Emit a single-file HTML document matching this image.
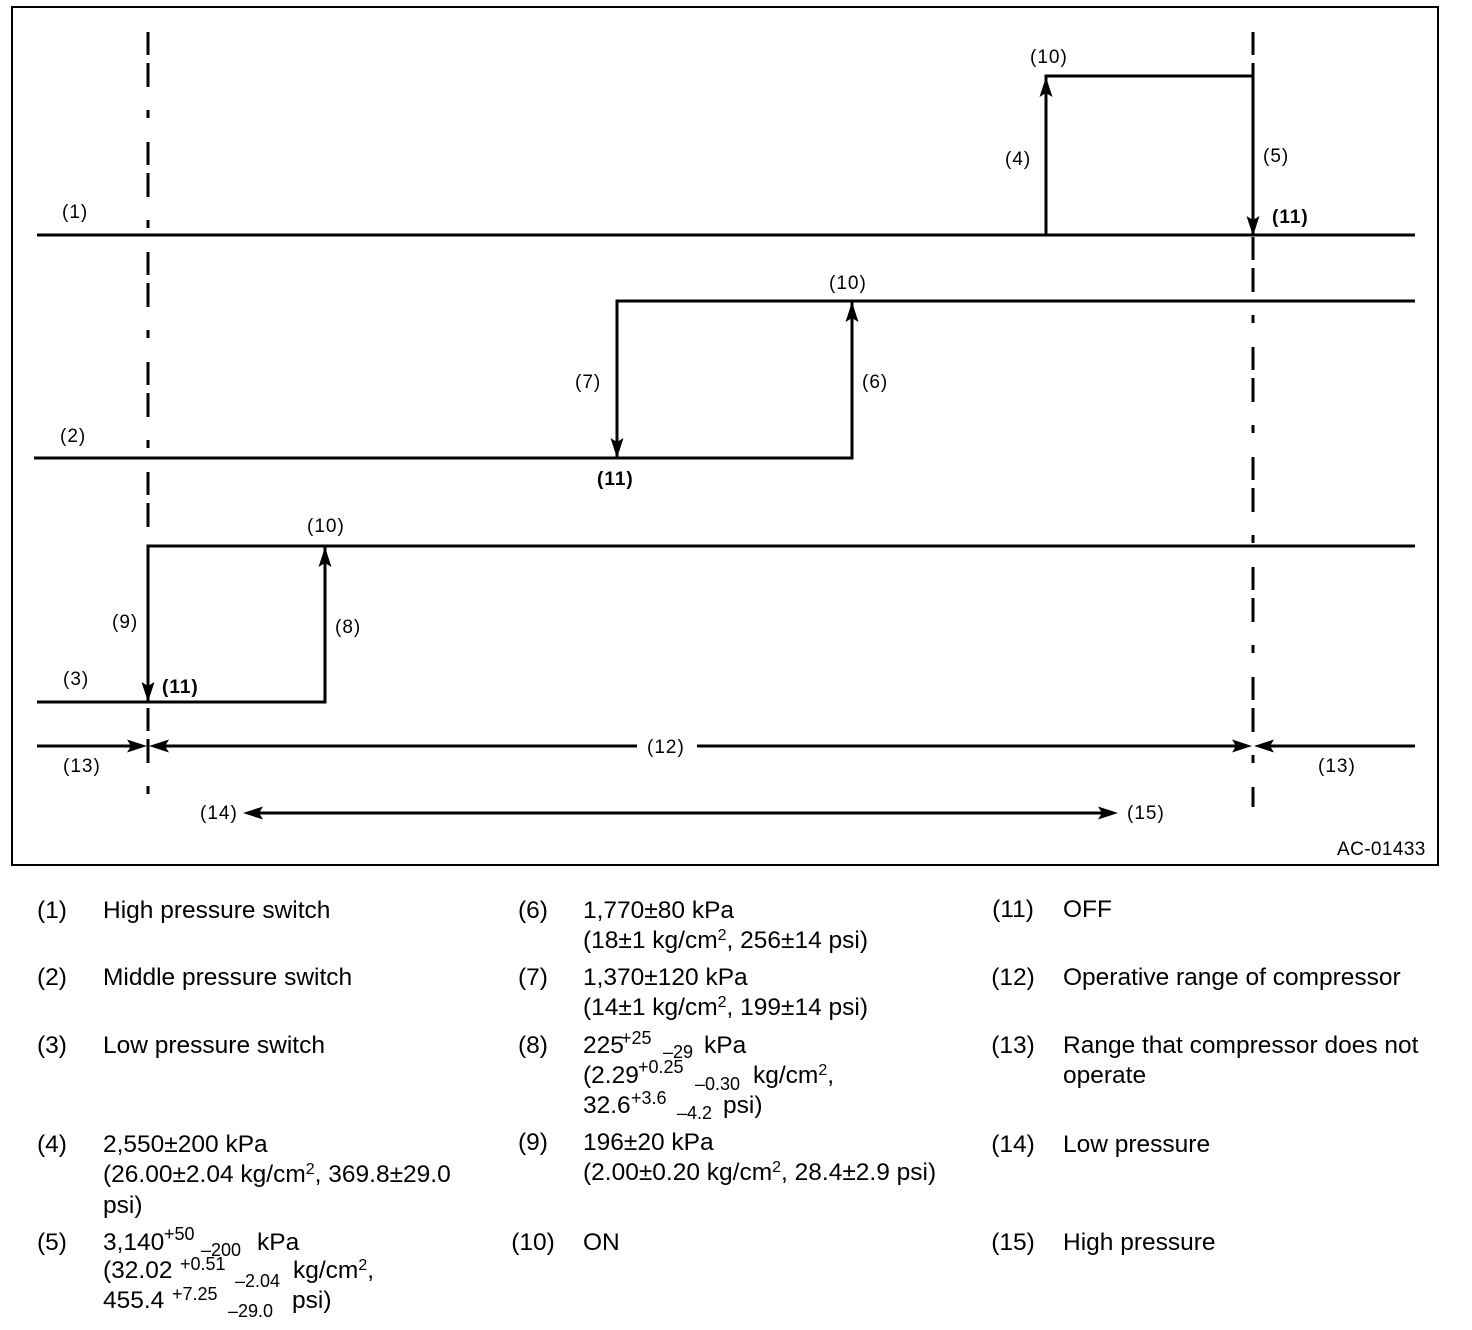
<!DOCTYPE html>
<html>
<head>
<meta charset="utf-8">
<style>
  html, body { margin:0; padding:0; background:#fff; }
  svg { display:block; }
  .lbl { font-family:"Liberation Sans", Arial, sans-serif; font-size:19px; letter-spacing:1px; fill:#000; }
  .lblb { font-family:"Liberation Sans", Arial, sans-serif; font-size:19px; letter-spacing:1px; font-weight:bold; fill:#000; }
  .lg { font-family:"Liberation Sans", Arial, sans-serif; font-size:24.5px; fill:#000; }
  .ss { font-family:"Liberation Sans", Arial, sans-serif; font-size:18px; fill:#000; }
</style>
</head>
<body>
<svg width="1472" height="1330" viewBox="0 0 1472 1330" xmlns="http://www.w3.org/2000/svg">
  <rect x="0" y="0" width="1472" height="1330" fill="#fff"/>
  <!-- frame -->
  <rect x="12" y="7" width="1426" height="858" fill="none" stroke="#000" stroke-width="2"/>

  <!-- dashed verticals -->
  <g stroke="#000" stroke-width="3" fill="none">
    <line x1="148" y1="32" x2="148" y2="546" stroke-dasharray="23 8 24 23 8 24"/>
    <line x1="148" y1="708" x2="148" y2="795" stroke-dasharray="23 8 24 23 8 24"/>
    <line x1="1253" y1="32" x2="1253" y2="55"/>
    <line x1="1253" y1="63" x2="1253" y2="76"/>
    <line x1="1253" y1="237" x2="1253" y2="807" stroke-dasharray="23 8 24 23 8 24"/>
  </g>

  <!-- main lines -->
  <g stroke="#000" stroke-width="3" fill="none" stroke-linejoin="miter">
    <!-- (1) -->
    <line x1="37" y1="235" x2="1415" y2="235"/>
    <path d="M1046,235 V76 H1253 V235"/>
    <!-- (2) -->
    <path d="M34,458 H852 V301"/>
    <path d="M617,458 V301 H1415"/>
    <!-- (3) -->
    <path d="M37,702 H325 V546"/>
    <path d="M148,702 V546 H1415"/>
    <!-- range line -->
    <line x1="37" y1="746" x2="140" y2="746"/>
    <line x1="156" y1="746" x2="637" y2="746"/>
    <line x1="697" y1="746" x2="1245" y2="746"/>
    <line x1="1261" y1="746" x2="1415" y2="746"/>
    <!-- low/high line -->
    <line x1="250" y1="813" x2="1111" y2="813"/>
  </g>

  <!-- arrowheads -->
  <g fill="#000" stroke="none">
    <!-- up arrows -->
    <polygon points="1046,77 1052.5,97 1046,93 1039.5,97"/>
    <polygon points="852,302 858.5,322 852,318 845.5,322"/>
    <polygon points="325,547 331.5,567 325,563 318.5,567"/>
    <!-- down arrows -->
    <polygon points="1253,236 1259.5,216 1253,220 1246.5,216"/>
    <polygon points="617,458 623.5,438 617,442 610.5,438"/>
    <polygon points="148,702 154.5,682 148,686 141.5,682"/>
    <!-- range arrows y=746 -->
    <polygon points="147,746 127,739.5 131,746 127,752.5"/>
    <polygon points="149,746 169,739.5 165,746 169,752.5"/>
    <polygon points="1252,746 1232,739.5 1236,746 1232,752.5"/>
    <polygon points="1254,746 1274,739.5 1270,746 1274,752.5"/>
    <!-- low/high arrows y=813 -->
    <polygon points="243,813 263,806.5 259,813 263,819.5"/>
    <polygon points="1118,813 1098,806.5 1102,813 1098,819.5"/>
  </g>

  <!-- diagram labels -->
  <text class="lbl" x="62" y="218">(1)</text>
  <text class="lbl" x="1030" y="63">(10)</text>
  <text class="lbl" x="1005" y="165">(4)</text>
  <text class="lbl" x="1263" y="162">(5)</text>
  <text class="lblb" x="1272" y="223">(11)</text>

  <text class="lbl" x="829" y="289">(10)</text>
  <text class="lbl" x="575" y="388">(7)</text>
  <text class="lbl" x="862" y="388">(6)</text>
  <text class="lblb" x="597" y="485">(11)</text>
  <text class="lbl" x="60" y="442">(2)</text>

  <text class="lbl" x="307" y="532">(10)</text>
  <text class="lbl" x="112" y="628">(9)</text>
  <text class="lbl" x="335" y="633">(8)</text>
  <text class="lbl" x="63" y="685">(3)</text>
  <text class="lblb" x="162" y="693">(11)</text>

  <text class="lbl" x="63" y="772">(13)</text>
  <text class="lbl" x="647" y="753">(12)</text>
  <text class="lbl" x="1318" y="772">(13)</text>
  <text class="lbl" x="200" y="819">(14)</text>
  <text class="lbl" x="1127" y="819">(15)</text>
  <text class="lbl" x="1337" y="855" style="letter-spacing:0.4px">AC-01433</text>

  <!-- legend: left column -->
  <g class="lg">
    <text class="lg" x="52" y="918" text-anchor="middle">(1)</text>
    <text class="lg" x="103" y="918">High pressure switch</text>
    <text class="lg" x="52" y="985" text-anchor="middle">(2)</text>
    <text class="lg" x="103" y="985">Middle pressure switch</text>
    <text class="lg" x="52" y="1053" text-anchor="middle">(3)</text>
    <text class="lg" x="103" y="1053">Low pressure switch</text>
    <text class="lg" x="52" y="1152" text-anchor="middle">(4)</text>
    <text class="lg" x="103" y="1152">2,550±200 kPa</text>
    <text class="lg" x="103" y="1182">(26.00±2.04 kg/cm<tspan dy="-8" font-size="16">2</tspan><tspan dy="8">, 369.8±29.0</tspan></text>
    <text class="lg" x="103" y="1213">psi)</text>
    <text class="lg" x="52" y="1250" text-anchor="middle">(5)</text>
    <text class="lg" x="103" y="1250">3,140</text>
    <text class="ss" x="164" y="1240">+50</text>
    <text class="ss" x="201" y="1256">–200</text>
    <text class="lg" x="257" y="1250">kPa</text>
    <text class="lg" x="103" y="1278">(32.02</text>
    <text class="ss" x="180" y="1270">+0.51</text>
    <text class="ss" x="235" y="1287">–2.04</text>
    <text class="lg" x="293" y="1278">kg/cm<tspan dy="-8" font-size="16">2</tspan><tspan dy="8">,</tspan></text>
    <text class="lg" x="103" y="1308">455.4</text>
    <text class="ss" x="172" y="1300">+7.25</text>
    <text class="ss" x="228" y="1317">–29.0</text>
    <text class="lg" x="292" y="1308">psi)</text>
  </g>

  <!-- legend: middle column -->
  <text class="lg" x="533" y="918" text-anchor="middle">(6)</text>
  <text class="lg" x="583" y="918">1,770±80 kPa</text>
  <text class="lg" x="583" y="948">(18±1 kg/cm<tspan dy="-8" font-size="16">2</tspan><tspan dy="8">, 256±14 psi)</tspan></text>
  <text class="lg" x="533" y="985" text-anchor="middle">(7)</text>
  <text class="lg" x="583" y="985">1,370±120 kPa</text>
  <text class="lg" x="583" y="1015">(14±1 kg/cm<tspan dy="-8" font-size="16">2</tspan><tspan dy="8">, 199±14 psi)</tspan></text>
  <text class="lg" x="533" y="1053" text-anchor="middle">(8)</text>
  <text class="lg" x="583" y="1053">225</text>
  <text class="ss" x="621" y="1044">+25</text>
  <text class="ss" x="663" y="1058">–29</text>
  <text class="lg" x="704" y="1053">kPa</text>
  <text class="lg" x="583" y="1083">(2.29</text>
  <text class="ss" x="638" y="1073">+0.25</text>
  <text class="ss" x="695" y="1090">–0.30</text>
  <text class="lg" x="753" y="1083">kg/cm<tspan dy="-8" font-size="16">2</tspan><tspan dy="8">,</tspan></text>
  <text class="lg" x="583" y="1113">32.6</text>
  <text class="ss" x="631" y="1104">+3.6</text>
  <text class="ss" x="677" y="1119">–4.2</text>
  <text class="lg" x="723" y="1113">psi)</text>
  <text class="lg" x="533" y="1150" text-anchor="middle">(9)</text>
  <text class="lg" x="583" y="1150">196±20 kPa</text>
  <text class="lg" x="583" y="1180">(2.00±0.20 kg/cm<tspan dy="-8" font-size="16">2</tspan><tspan dy="8">, 28.4±2.9 psi)</tspan></text>
  <text class="lg" x="533" y="1250" text-anchor="middle">(10)</text>
  <text class="lg" x="583" y="1250">ON</text>

  <!-- legend: right column -->
  <text class="lg" x="1013" y="917" text-anchor="middle">(11)</text>
  <text class="lg" x="1063" y="917">OFF</text>
  <text class="lg" x="1013" y="985" text-anchor="middle">(12)</text>
  <text class="lg" x="1063" y="985">Operative range of compressor</text>
  <text class="lg" x="1013" y="1053" text-anchor="middle">(13)</text>
  <text class="lg" x="1063" y="1053">Range that compressor does not</text>
  <text class="lg" x="1063" y="1083">operate</text>
  <text class="lg" x="1013" y="1152" text-anchor="middle">(14)</text>
  <text class="lg" x="1063" y="1152">Low pressure</text>
  <text class="lg" x="1013" y="1250" text-anchor="middle">(15)</text>
  <text class="lg" x="1063" y="1250">High pressure</text>
</svg>
</body>
</html>
